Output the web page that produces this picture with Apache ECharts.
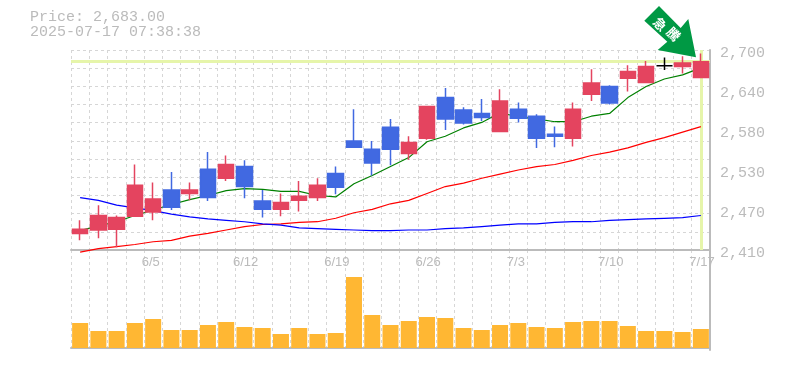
<!DOCTYPE html>
<html>
<head>
<meta charset="utf-8">
<style>html,body{margin:0;padding:0;background:#fff}#c{width:785px;height:370px}</style>
<script src="https://cdn.jsdelivr.net/npm/echarts@6/dist/echarts.min.js"></script>
</head>
<body>
<div id="c"></div>
<script>
const dates = ['5/30','6/2','6/3','6/4','6/5','6/6','6/9','6/10','6/11','6/12','6/13','6/16','6/17','6/18','6/19','6/20','6/23','6/24','6/25','6/26','6/27','6/30','7/1','7/2','7/3','7/4','7/7','7/8','7/9','7/10','7/11','7/14','7/15','7/16','7/17'];
const shownDates = ['6/5','6/12','6/19','6/26','7/3','7/10','7/17'];
// open, close, low, high
const opens  = [2434,2439,2440,2459,2465,2497,2492,2527,2514,2531,2481,2469,2482,2486,2521,2568,2556,2588,2550,2572,2631,2613,2608,2582,2614,2604,2578,2572,2636,2647,2659,2653,2677,2676,2660];
const closes = [2440,2460,2457,2504,2484,2472,2497,2486,2534,2502,2469,2479,2488,2504,2501,2559,2536,2556,2566,2618,2600,2594,2602,2626,2601,2572,2575,2614,2652,2623,2669,2676,2677,2681,2683];
const lows   = [2424,2427,2414,2458,2453,2468,2482,2481,2510,2485,2457,2459,2466,2481,2491,2559,2518,2533,2541,2570,2584,2592,2597,2581,2595,2558,2559,2560,2626,2621,2640,2653,2671,2666,2660];
const highs  = [2453,2475,2460,2534,2508,2523,2508,2552,2547,2540,2497,2492,2510,2514,2531,2614,2568,2600,2575,2618,2645,2617,2629,2643,2624,2607,2589,2624,2672,2649,2678,2684,2689,2691,2695];
const maShort = [2438,2445,2451,2460,2468,2476,2483,2489,2496,2499,2498,2495,2495,2489,2487,2506,2518,2531,2544,2567,2575,2587,2595,2609,2603,2600,2596,2596,2604,2608,2631,2647,2658,2664,2674];
const maMid   = [2407,2412,2415,2418,2422,2424,2430,2434,2439,2444,2447,2448,2450,2451,2456,2464,2469,2477,2482,2492,2502,2507,2514,2520,2526,2531,2534,2540,2547,2552,2558,2566,2573,2581,2589];
const maLong  = [2486,2482,2475,2471,2467,2462,2458,2455,2453,2451,2448,2446,2442,2441,2440,2439,2438,2438,2439,2439,2441,2442,2444,2446,2448,2448,2450,2451,2451,2453,2454,2455,2456,2457,2460];
const volumes = [25,17,17,25,29,18,18,23,26,21,20,14,20,14,15,71,33,23,27,31,30,20,18,23,25,21,20,26,27,27,22,17,17,16,19];
const priceTicks = [2410,2468,2526,2584,2642,2700];
const priceTickLabels = ['2,410','2,470','2,530','2,580','2,640','2,700'];
const lastPrice = 2683;
const headerLines = ['Price: 2,683.00','2025-07-17 07:38:38'];
const badgeText = ['急','騰'];

const GREY = '#bbbbbb', GRID = '#d6d6d6', MONO = '"Liberation Mono", monospace';
const gridLine = { show: true, lineStyle: { color: GRID, type: [3, 3], width: 1 } };
const chart = echarts.init(document.getElementById('c'), null, { renderer: 'canvas' });
const candles = dates.map((_, i) => [opens[i], closes[i], lows[i], highs[i]]);
const ma = (name, data, color) => ({
  name, type: 'line', data, xAxisIndex: 0, yAxisIndex: 0, z: 3, clip: false,
  showSymbol: false, symbol: 'none', silent: true,
  lineStyle: { color, width: 1.2 }
});

chart.setOption({
  animation: false,
  backgroundColor: '#fff',
  title: {
    text: headerLines.join('\n'), left: 30, top: 10, padding: 0,
    textStyle: { fontFamily: MONO, fontSize: 15, fontWeight: 'normal', color: GREY, lineHeight: 15 }
  },
  grid: [
    { left: 71, width: 639, top: 50, height: 200 },
    { left: 71, width: 639, top: 250, height: 100 }
  ],
  xAxis: [
    { type: 'category', gridIndex: 0, data: dates,
      axisLine: { show: true, lineStyle: { color: GREY, width: 2 } }, axisTick: { show: false },
      splitLine: { ...gridLine, interval: 0 },
      axisLabel: { show: true, interval: (i, v) => shownDates.includes(v), margin: 6, hideOverlap: false,
        formatter: v => '{d|' + v + '}',
        rich: { d: { width: 23, align: 'left', color: GREY, fontFamily: '"Liberation Sans"', fontSize: 13 } } } },
    { type: 'category', gridIndex: 1, data: dates,
      axisLine: { show: true, lineStyle: { color: GREY, width: 2 } }, axisTick: { show: false },
      splitLine: { ...gridLine, interval: 0 }, axisLabel: { show: false } }
  ],
  yAxis: [
    { type: 'value', gridIndex: 0, position: 'right', min: 2410, max: 2700, scale: true,
      axisLine: { show: true, onZero: false, lineStyle: { color: GREY, width: 2 } }, axisTick: { show: false }, splitLine: { show: false },
      axisLabel: { customValues: priceTicks, margin: 10, formatter: v => '{p|' + priceTickLabels[priceTicks.indexOf(v)] + '}',
        rich: { p: { color: GREY, fontFamily: MONO, fontSize: 15, padding: [7, 0, 0, 0] } } } },
    { type: 'value', gridIndex: 0, position: 'left', min: 0, max: 11, interval: 1,
      axisLine: { show: false }, axisTick: { show: false }, axisLabel: { show: false }, splitLine: gridLine },
    { type: 'value', gridIndex: 1, position: 'right', min: -2, max: 98,
      axisLine: { show: true, onZero: false, lineStyle: { color: GREY, width: 2 } }, axisTick: { show: false }, axisLabel: { show: false }, splitLine: { show: false } }
  ],
  series: [
    { name: 'last', type: 'line', data: [], xAxisIndex: 0, yAxisIndex: 0, z: 2, silent: true,
      markLine: { z: 2, silent: true, symbol: 'none', animation: false, label: { show: false },
        lineStyle: { color: '#e6f5aa', width: 3, type: 'solid' },
        data: [{ yAxis: lastPrice }, { xAxis: dates[dates.length - 1] }] } },
    ma('short', maShort, '#008000'),
    ma('mid', maMid, '#ff0000'),
    ma('long', maLong, '#0000ff'),
    { name: 'price', type: 'candlestick', data: candles, xAxisIndex: 0, yAxisIndex: 0, barWidth: 16, z: 4, silent: true,
      itemStyle: { color: '#e4445f', color0: '#4169e1', borderColor: '#e4445f', borderColor0: '#4169e1', borderColorDoji: '#000000', borderWidth: 1.5 } },
    { name: 'volume', type: 'bar', data: volumes, xAxisIndex: 1, yAxisIndex: 2, barWidth: 16, silent: true,
      itemStyle: { color: '#ffb733' } }
  ],
  graphic: [
    { type: 'polygon', z: 20, silent: true,
      shape: { points: [[659,6],[644.3,20.7],[667.3,41.7],[657.7,50],[696,57.3],[688.3,19],[680.7,28]] },
      style: { fill: '#009944' } },
    { type: 'text', z: 21, silent: true, x: 660, y: 24, rotation: -Math.PI / 4,
      style: { text: badgeText[0], fill: '#fff', font: 'bold 13px "Noto Sans CJK JP"', align: 'center', verticalAlign: 'middle' } },
    { type: 'text', z: 21, silent: true, x: 673.7, y: 34, rotation: -Math.PI / 4,
      style: { text: badgeText[1], fill: '#fff', font: 'bold 13px "Noto Sans CJK JP"', align: 'center', verticalAlign: 'middle' } }
  ]
});
</script>
</body>
</html>
